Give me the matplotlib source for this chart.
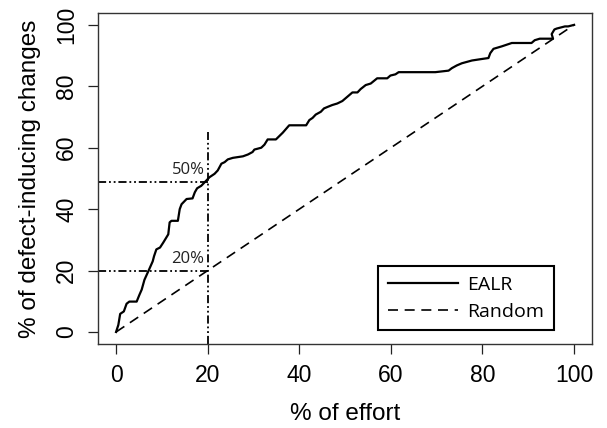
import matplotlib
matplotlib.use('Agg')
import matplotlib.pyplot as plt

plt.rcParams['font.family'] = ['Liberation Sans', 'DejaVu Sans']

# EALR effort-aware curve (% of effort, % of defect-inducing changes)
ealr_x = [0, 0.5, 0.9, 1.7, 2.3, 2.9, 4.5, 5.1, 5.6, 6.2, 7.2, 8.0, 8.3, 8.8, 9.6,
          10.3, 11.4, 11.7, 12.1, 13.5, 13.9, 14.3, 15.4, 16.7, 17.2, 17.7, 18.6,
          19.7, 20.4, 21.5, 22.2, 23.0, 23.7, 24.4, 25.5, 27.7, 28.8, 29.8, 30.2,
          31.7, 32.4, 33.1, 34.9, 36.4, 37.8, 41.5, 42.2, 42.9, 43.6, 44.7, 45.4,
          46.2, 47.2, 48.3, 49.4, 50.5, 51.6, 52.7, 53.4, 54.5, 55.6, 57.0, 59.2,
          59.9, 61.0, 61.7, 69.7, 72.6, 73.3, 74.4, 75.5, 77.7, 79.9, 81.3, 81.7,
          82.4, 84.2, 86.4, 90.7, 91.4, 92.5, 94.7, 95.4, 95.1, 95.7, 96.2, 98.0,
          98.7, 100]
ealr_y = [0, 2.3, 5.9, 6.7, 9.2, 9.9, 9.9, 12.1, 13.8, 17.0, 20.3, 23.0, 24.7, 26.9, 27.5,
          29.1, 31.8, 35.7, 36.2, 36.2, 40.0, 41.6, 43.3, 43.5, 45.5, 46.8, 47.6,
          49.3, 50.4, 51.5, 52.6, 54.8, 55.3, 56.2, 56.7, 57.2, 57.8, 58.6, 59.4,
          60.0, 61.0, 62.7, 62.7, 64.9, 67.3, 67.3, 69.0, 69.7, 70.8, 71.7, 72.8,
          73.3, 73.9, 74.4, 75.2, 76.6, 78.0, 78.0, 79.1, 80.4, 80.9, 82.6, 82.6,
          83.5, 83.9, 84.6, 84.6, 85.1, 85.9, 86.8, 87.5, 88.4, 88.9, 89.2, 90.8,
          92.2, 93.0, 94.1, 94.1, 95.0, 95.5, 95.5, 95.5, 97.0, 98.5, 98.8, 99.5,
          99.5, 100]
random_x = [0, 100]
random_y = [0, 100]

cut_effort = 20
cut_hits = [49, 20]
cut_labels = ['50%', '20%']

xticks = [0, 20, 40, 60, 80, 100]
yticks = [0, 20, 40, 60, 80, 100]

fig = plt.figure(figsize=(6.07, 4.28), dpi=100)
ax = fig.add_axes([0.161, 0.1956, 0.815, 0.775])

ax.plot(ealr_x, ealr_y, color='black', lw=1.6, label='EALR')
ax.plot(random_x, random_y, color='black', lw=1.2, dashes=(6, 4), label='Random')

ddot = (4.5, 1.6, 1, 1.6, 1, 1.6)
ax.plot([cut_effort, cut_effort], [-4, 65], color='black', lw=1.3, dashes=ddot)
for h, lab in zip(cut_hits, cut_labels):
    ax.plot([-4, cut_effort], [h, h], color='black', lw=1.3, dashes=ddot)
    ax.text(cut_effort - 0.7, h + 1.2, lab, ha='right', va='bottom', fontsize=12,
            family=['Open Sans', 'DejaVu Sans'], color='#222222')

ax.set_xlim(-4, 104)
ax.set_ylim(-4, 104)
ax.set_xticks(xticks)
ax.set_yticks(yticks)
ax.tick_params(axis='both', direction='out', length=7, width=0.9, labelsize=16.5,
               pad=7, color='#222222')
for lbl in ax.get_yticklabels():
    lbl.set_rotation(90)
    lbl.set_va('center')
for s in ax.spines.values():
    s.set_color('#333333')
    s.set_linewidth(1.0)

ax.set_xlabel('% of effort', fontsize=17.5, labelpad=12)
ax.set_ylabel('% of defect-inducing changes', fontsize=17.5, labelpad=10)

leg = ax.legend(loc='lower right', bbox_to_anchor=(0.923, 0.042),
                prop={'family': ['Open Sans', 'DejaVu Sans'], 'size': 14},
                frameon=True, fancybox=False, handlelength=3.6, borderpad=0.5,
                labelspacing=0.45, handletextpad=0.5, borderaxespad=0)
leg.get_frame().set_edgecolor('black')
leg.get_frame().set_linewidth(1.5)
leg.get_frame().set_alpha(1)

fig.savefig('out.png', dpi=100)
